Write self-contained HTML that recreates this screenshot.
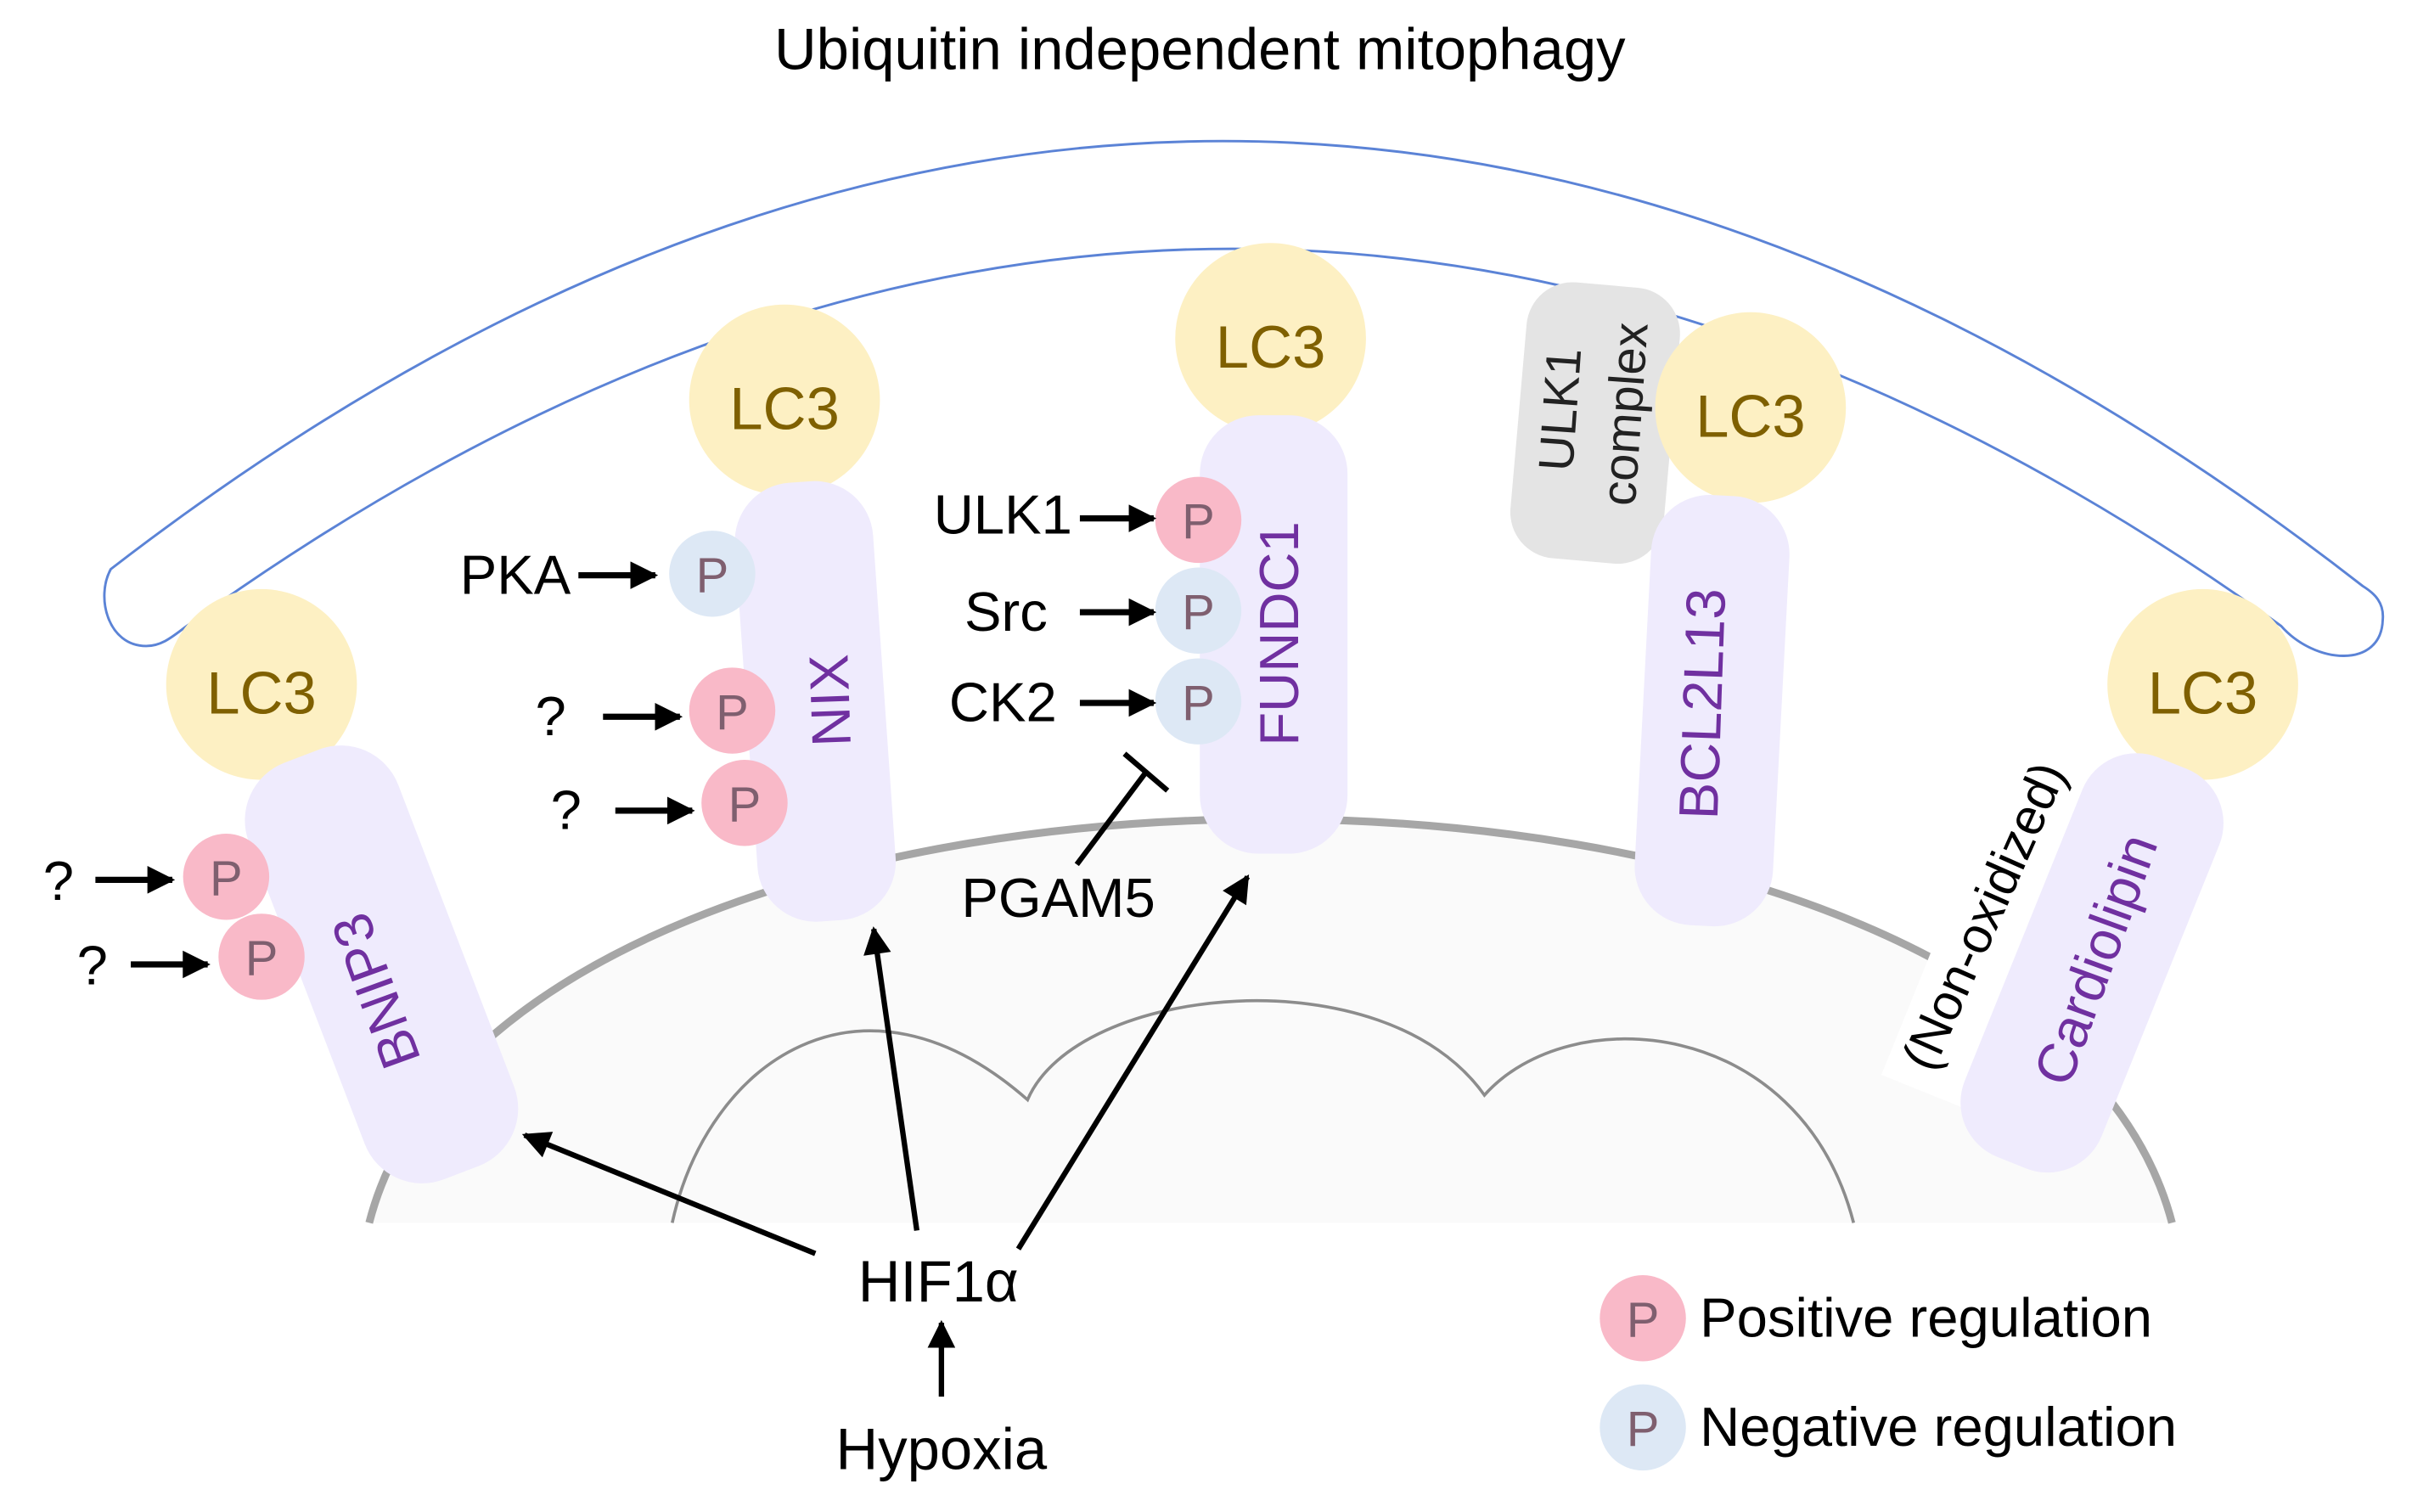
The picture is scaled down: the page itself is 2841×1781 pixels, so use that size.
<!DOCTYPE html>
<html><head><meta charset="utf-8"><style>html,body{margin:0;padding:0;background:#fff}svg{display:block}</style></head>
<body>
<svg width="2841" height="1781" viewBox="0 0 1568 983" xmlns="http://www.w3.org/2000/svg" font-family="Liberation Sans, Arial, sans-serif">
<defs>
<marker id="ah2" viewBox="0 0 10 10" markerWidth="20" markerHeight="18" refX="9" refY="5" orient="auto" markerUnits="userSpaceOnUse"><path d="M0,0 L10,5 L0,10 Z" fill="#000"/></marker>
</defs>
<rect width="1568" height="983" fill="#fff"/>
<text x="780" y="45" font-size="38" text-anchor="middle" fill="#000">Ubiquitin independent mitophagy</text>
<!-- autophagosome -->
<path d="M120,408 Q800,-84 1483,407 C1505,432 1548,435 1549,403 C1550,392 1544,386 1536,381 Q800,-192 72,370 C62,388 70,420 95,420 C105,420 112,414 120,408 Z" fill="#fff" stroke="#5b83d6" stroke-width="1.6"/>
<!-- mitochondrion -->
<path d="M240,795 C330,445 1320,445 1412,795 Z" fill="#fafafa"/>
<path d="M240,795 C330,445 1320,445 1412,795" fill="none" stroke="#a6a6a6" stroke-width="5"/>
<path d="M437,795 C460,690 560,620 668,715 C700,640 900,620 965,712 C1020,650 1170,660 1205,795" fill="none" stroke="#8c8c8c" stroke-width="2"/>
<!-- white behind non-oxidized -->
<rect x="-28" y="-130" width="56" height="250" fill="#fff" transform="translate(1294,598) rotate(22)"/>
<!-- BNIP3 -->
<circle cx="170" cy="445" r="62" fill="#fdf0c3"/>
<text x="170" y="464" font-size="39" text-anchor="middle" fill="#7f6000">LC3</text>
<rect x="-52" y="-145" width="104" height="290" rx="40" fill="#efebfd" transform="translate(248,627) rotate(-21)"/>
<text font-size="36" fill="#7030a0" text-anchor="middle" transform="translate(256,640) rotate(-110)">BNIP3</text>
<!-- NIX -->
<circle cx="510" cy="260" r="62" fill="#fdf0c3"/>
<text x="510" y="279" font-size="39" text-anchor="middle" fill="#7f6000">LC3</text>
<rect x="-45" y="-143" width="90" height="286" rx="38" fill="#efebfd" transform="translate(530,456) rotate(-4)"/>
<text font-size="36" fill="#7030a0" text-anchor="middle" transform="translate(552,455) rotate(-92)">NIX</text>
<!-- FUNDC1 -->
<circle cx="826" cy="220" r="62" fill="#fdf0c3"/>
<text x="826" y="239" font-size="39" text-anchor="middle" fill="#7f6000">LC3</text>
<rect x="780" y="270" width="96" height="285" rx="38" fill="#efebfd"/>
<text font-size="36" fill="#7030a0" text-anchor="middle" transform="translate(844,412) rotate(-90)">FUNDC1</text>
<!-- BCL2L13 -->
<rect x="-50" y="-90" width="100" height="180" rx="30" fill="#e4e4e4" transform="translate(1037,275) rotate(5)"/>
<text font-size="32" fill="#222" text-anchor="middle" transform="translate(1025,267) rotate(-86)">ULK1</text>
<text font-size="32" fill="#222" text-anchor="middle" transform="translate(1067,270) rotate(-86)">complex</text>
<circle cx="1138" cy="265" r="62" fill="#fdf0c3"/>
<text x="1138" y="284" font-size="39" text-anchor="middle" fill="#7f6000">LC3</text>
<rect x="-45" y="-140" width="90" height="280" rx="38" fill="#efebfd" transform="translate(1113,462) rotate(3)"/>
<text font-size="36" fill="#7030a0" text-anchor="middle" transform="translate(1119,458) rotate(-88)">BCL2L13</text>
<!-- Cardiolipin -->
<circle cx="1432" cy="445" r="62" fill="#fdf0c3"/>
<text x="1432" y="464" font-size="39" text-anchor="middle" fill="#7f6000">LC3</text>
<rect x="-48" y="-140" width="96" height="280" rx="38" fill="#efebfd" transform="translate(1360,626) rotate(22)"/>
<text font-size="36" fill="#7030a0" text-anchor="middle" transform="translate(1374,628) rotate(-70)">Cardiolipin</text>
<text font-size="33" fill="#000" text-anchor="middle" transform="translate(1300,600) rotate(-66)">(Non-oxidized)</text>
<!-- P circles -->
<g font-size="32" text-anchor="middle" fill="#7f5f6f">
<circle cx="147" cy="570" r="28" fill="#f9b9c8"/><text x="147" y="582">P</text>
<circle cx="170" cy="622" r="28" fill="#f9b9c8"/><text x="170" y="634">P</text>
<circle cx="463" cy="373" r="28" fill="#dde8f5"/><text x="463" y="385">P</text>
<circle cx="476" cy="462" r="28" fill="#f9b9c8"/><text x="476" y="474">P</text>
<circle cx="484" cy="522" r="28" fill="#f9b9c8"/><text x="484" y="534">P</text>
<circle cx="779" cy="338" r="28" fill="#f9b9c8"/><text x="779" y="350">P</text>
<circle cx="779" cy="397" r="28" fill="#dde8f5"/><text x="779" y="409">P</text>
<circle cx="779" cy="456" r="28" fill="#dde8f5"/><text x="779" y="468">P</text>
<circle cx="1068" cy="857" r="28" fill="#f9b9c8"/><text x="1068" y="869">P</text>
<circle cx="1068" cy="928" r="28" fill="#dde8f5"/><text x="1068" y="940">P</text>
</g>
<!-- labels -->
<g font-size="36" fill="#000">
<text x="38" y="585" text-anchor="middle">?</text>
<text x="60" y="640" text-anchor="middle">?</text>
<text x="358" y="478" text-anchor="middle">?</text>
<text x="368" y="539" text-anchor="middle">?</text>
<text x="371" y="386" text-anchor="end">PKA</text>
<text x="697" y="347" text-anchor="end">ULK1</text>
<text x="681" y="410" text-anchor="end">Src</text>
<text x="687" y="469" text-anchor="end">CK2</text>
<text x="688" y="596" text-anchor="middle">PGAM5</text>
<text x="610" y="846" text-anchor="middle" font-size="38">HIF1α</text>
<text x="612" y="955" text-anchor="middle" font-size="38">Hypoxia</text>
<text x="1105" y="869" font-size="36">Positive regulation</text>
<text x="1105" y="940" font-size="36">Negative regulation</text>
</g>
<!-- short arrows -->
<g stroke="#000" stroke-width="4" marker-end="url(#ah2)">
<line x1="62" y1="572" x2="112" y2="572"/>
<line x1="85" y1="627" x2="135" y2="627"/>
<line x1="376" y1="374" x2="426" y2="374"/>
<line x1="392" y1="466" x2="442" y2="466"/>
<line x1="400" y1="527" x2="450" y2="527"/>
<line x1="702" y1="337" x2="750" y2="337"/>
<line x1="702" y1="398" x2="750" y2="398"/>
<line x1="702" y1="457" x2="750" y2="457"/>
</g>
<!-- inhibition -->
<line x1="700" y1="562" x2="745" y2="502" stroke="#000" stroke-width="3.5"/>
<line x1="731" y1="490" x2="759" y2="514" stroke="#000" stroke-width="3.5"/>
<!-- long arrows -->
<g stroke="#000" stroke-width="3.5" marker-end="url(#ah2)">
<line x1="530" y1="815" x2="341" y2="738"/>
<line x1="596" y1="800" x2="568" y2="604"/>
<line x1="662" y1="812" x2="811" y2="570"/>
<line x1="612" y1="908" x2="612" y2="860"/>
</g>
</svg>
</body></html>
